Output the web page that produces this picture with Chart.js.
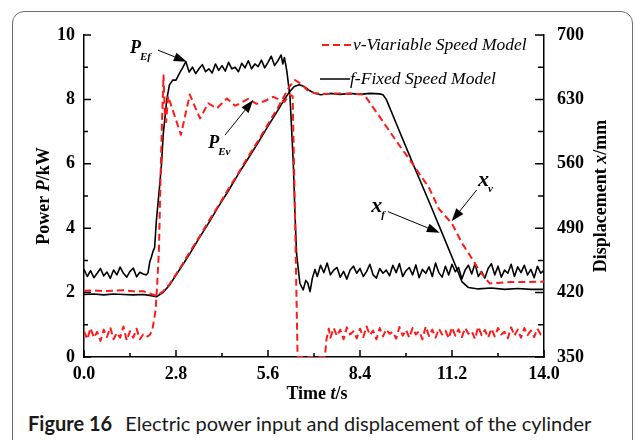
<!DOCTYPE html>
<html>
<head>
<meta charset="utf-8">
<script src="https://cdn.jsdelivr.net/npm/chart.js@4.4.1/dist/chart.umd.min.js"></script>
<style>
  html, body { margin: 0; padding: 0; background: #fff; }
  body { width: 635px; height: 440px; position: relative; overflow: hidden; }
  #frame { position: absolute; left: 12px; top: 11px; width: 621px; height: 470px;
           border: 1.5px solid #6f6f6f; border-radius: 12px; box-sizing: border-box; }
  #wrap { position: absolute; left: 0; top: 0; width: 635px; height: 410px; }
  #caption { position: absolute; left: 28px; top: 411px; line-height: 24px;
             font-family: Lato, "Open Sans", sans-serif; font-size: 20px; color: #1a1a1a; white-space: nowrap; }
  #caption b { font-weight: 700; margin-right: 8px; }
</style>
</head>
<body>
<div id="frame"></div>
<div id="wrap"><canvas id="chart" width="635" height="410"></canvas></div>
<div id="caption"><b>Figure 16</b> Electric power input and displacement of the cylinder</div>
<script>
// time grid helper for the evenly sampled (0.1 s) noisy stretches
function grid(a, b) {
    const out = [];
    for (let i = Math.round(a * 10); i <= Math.round(b * 10); i++) out.push(i / 10);
    return out;
}

// axis ticks
const timeTicks = [0, 2.8, 5.6, 8.4, 11.2, 14.0];
const timeMinor = [1.4, 4.2, 7.0, 9.8, 12.6];
const powerMinor = [1, 3, 5, 7, 9];
const dispTicks = [350, 420, 490, 560, 630, 700];
const dispMinor = [385, 455, 525, 595, 665];

// f - fixed speed model, electric power P (kW)
const pfTime = [...grid(0, 1.9),
    1.95, 2.0, 2.05, 2.1, 2.15, 2.2, 2.3, 2.36, 2.41, 2.47, 2.52, 2.6, 2.7, 2.8, 2.9,
    ...grid(3.0, 6.0),
    6.05, 6.1, 6.17, 6.27, 6.37, 6.42, 6.47, 6.57, 6.67, 6.75, 6.81, 6.88, 6.95, 7.03,
    ...grid(7.1, 14.0)];
const pfValue = [
    2.72, 2.50, 2.68, 2.46, 2.6, 2.75, 2.52, 2.64, 2.44, 2.70, 2.55, 2.79, 2.6, 2.48, 2.66, 2.76, 2.49, 2.63, 2.58, 2.55,
    2.62, 2.95, 3.1, 3.28, 3.4, 4.2, 5.3, 6.0, 6.9, 7.5, 8.0, 8.45, 8.6, 8.6, 8.8,
    8.98, 9.17, 8.85, 9.0, 8.8, 8.95, 9.08, 8.86, 8.95, 8.82, 9.1, 8.9, 9.05, 8.88, 9.15, 8.95,
    9.0, 8.86, 9.12, 8.98, 9.2, 8.95, 9.1, 9.02, 9.22, 8.98, 9.15, 9.34, 9.05, 9.2, 9.38,
    9.1, 9.3, 8.9, 8.08, 6.0, 4.47, 3.2, 2.29, 2.08, 2.38, 2.3, 2.03, 2.45, 2.72,
    2.5, 2.85, 2.62, 2.92, 2.55, 2.7, 2.78, 2.48, 2.66, 2.42, 2.7, 2.82, 2.6, 2.75, 2.5, 2.65, 2.88, 2.55, 2.45, 2.75,
    2.6, 2.7, 2.52, 2.85, 2.62, 2.9, 2.5, 2.68, 2.78, 2.55, 2.86, 2.46, 2.72, 2.6, 2.8, 2.5, 2.92, 2.62, 2.48, 2.82,
    2.55, 2.88, 2.65, 2.78, 2.42, 2.7, 2.85, 2.58, 2.9, 2.5, 2.65, 2.45, 2.75, 2.9, 2.55, 2.82, 2.48, 2.7, 2.6, 2.88,
    2.5, 2.8, 2.62, 2.85, 2.55, 2.72, 2.46, 2.82, 2.6, 2.7];

// v - variable speed model, electric power P (kW)
const pvTime = [...grid(0, 1.9),
    2.0, 2.08, 2.18, 2.23, 2.28, 2.33, 2.38, 2.42, 2.46, 2.5, 2.56, 2.95, 3.22, 3.53, 3.78, 4.04, 4.35, 4.6,
    5.0, 5.25, 5.5, 5.76, 6.1, 6.25, 6.35, 6.42, 6.5, 7.0, 7.33, 7.38, 7.45,
    ...grid(7.5, 14.0)];
const pvValue = [
    0.8, 0.55, 0.9, 0.6, 0.78, 0.5, 0.85, 0.62, 0.92, 0.55, 0.75, 0.6, 0.95, 0.52, 0.8, 0.6, 0.88, 0.55, 0.7, 0.62,
    0.68, 0.84, 1.46, 2.3, 3.3, 5.6, 7.5, 8.75, 7.6, 7.3, 8.1, 6.9, 8.15, 7.41, 7.88, 7.72, 8.03, 7.8,
    8.02, 7.86, 7.95, 8.08, 7.92, 8.15, 8.1, 4.5, 0.0, 0.0, 0.0, 0.55, 0.88,
    0.6, 0.9, 0.65, 0.85, 0.55, 0.92, 0.7, 0.8, 0.58, 0.88, 0.62, 0.95, 0.68, 0.82, 0.55, 0.9, 0.64, 0.86, 0.72, 0.78,
    0.57, 0.93, 0.66, 0.84, 0.6, 0.9, 0.7, 0.8, 0.55, 0.95, 0.65, 0.85, 0.6, 0.88, 0.7, 0.82, 0.58, 0.92, 0.66, 0.86,
    0.62, 0.9, 0.72, 0.8, 0.56, 0.94, 0.68, 0.84, 0.6, 0.88, 0.64, 0.9, 0.7, 0.78, 0.58, 0.92, 0.66, 0.85, 0.6, 0.9,
    0.68, 0.82, 0.62, 0.88, 0.7, 0.76];

// f - fixed speed model, displacement x (mm)
const xfTime = [0, 0.3, 0.6, 0.9, 1.2, 1.5, 1.8, 2.0, 2.2, 2.4, 2.6, 2.8, 3.0, 3.2, 3.5, 3.8, 4.1, 4.4, 4.7, 5.0,
    5.3, 5.6, 5.9, 6.1, 6.25, 6.4, 6.55, 6.7, 6.85, 7.0, 7.2, 7.5, 7.8, 8.1, 8.4, 8.7, 9.0, 9.1, 9.2, 9.5,
    10.0, 10.5, 11.0, 11.3, 11.5, 11.7, 12.0, 12.4, 12.8, 13.2, 13.6, 14.0];
const xfValue = [418, 418.5, 417.5, 418.5, 418, 417.5, 418, 417, 415.5, 420, 428, 439, 450, 461, 479, 496, 514, 531, 549, 566,
    583, 601, 618, 630, 638, 644, 646, 644, 640, 637, 635, 636.5, 635.5, 636.5, 635.5, 636.5, 636, 635, 630, 604,
    561, 519, 476, 450, 432, 425.5, 424, 425, 423.5, 424.5, 423.5, 423.5];

// v - variable speed model, displacement x (mm)
const xvTime = [0, 0.3, 0.6, 0.9, 1.2, 1.5, 1.8, 2.0, 2.2, 2.4, 2.6, 2.8, 3.0, 3.2, 3.5, 3.8, 4.1, 4.4, 4.7, 5.0,
    5.3, 5.6, 5.9, 6.1, 6.25, 6.42, 6.6, 6.8, 7.0, 7.3, 7.7, 8.1, 8.4, 8.55, 9.0, 9.5, 10.0, 10.5, 10.8, 11.0,
    11.2, 11.5, 11.7, 12.0, 12.2, 12.35, 12.6, 13.0, 13.5, 14.0];
const xvValue = [422, 422.5, 421.5, 422, 422.5, 421.5, 421.5, 419, 416.5, 421, 429, 440, 451, 463, 480, 498, 515, 533, 550, 568,
    585, 603, 621, 634, 644, 651, 647, 640, 637, 636, 636.5, 636, 636, 634, 611, 585, 560, 534, 511, 503,
    495, 474, 463, 446, 436, 430, 430.5, 431.5, 431.5, 432];

const legendItems = ['v-Viariable Speed Model', 'f-Fixed Speed Model'];

const RED = '#ff1a1a';
const serif = '"Liberation Serif", "Times New Roman", Times, serif';

function zip(t, v) {
    return t.map((x, i) => ({x: x, y: v[i]}));
}

// callout labels, placed in data units (axis: y = power, y1 = displacement)
const callouts = [
    {main: 'P', sub: 'Ef', size: 18, axis: 'y', at: [1.40, 9.43], from: [2.25, 9.53], to: [3.13, 9.17], subDy: 7},
    {main: 'P', sub: 'Ev', size: 18, axis: 'y', at: [3.78, 6.48], from: [4.29, 6.89], to: [5.15, 7.98], subDy: 7},
    {main: 'x', sub: 'v', size: 22, axis: 'y1', at: [11.99, 535.5], from: [11.95, 531.5], to: [11.19, 497.5], subDy: 6},
    {main: 'x', sub: 'f', size: 22, axis: 'y1', at: [8.74, 508], from: [9.25, 508], to: [10.83, 485], subDy: 6}
];

function rich(ctx, parts, cx, cy, angle) {
    ctx.save();
    ctx.translate(cx, cy);
    ctx.rotate(angle);
    let total = 0;
    parts.forEach(p => { ctx.font = p.font; p.w = ctx.measureText(p.text).width; total += p.w; });
    let x = -total / 2;
    ctx.textBaseline = 'middle';
    ctx.textAlign = 'left';
    parts.forEach(p => { ctx.font = p.font; ctx.fillText(p.text, x, 0); x += p.w; });
    ctx.restore();
}

function arrow(ctx, x0, y0, x1, y1) {
    const ang = Math.atan2(y1 - y0, x1 - x0);
    const len = 13, half = 4.5;
    const bx = x1 - len * Math.cos(ang), by = y1 - len * Math.sin(ang);
    ctx.beginPath();
    ctx.moveTo(x0, y0);
    ctx.lineTo(bx, by);
    ctx.stroke();
    ctx.beginPath();
    ctx.moveTo(x1, y1);
    ctx.lineTo(bx + half * Math.sin(ang), by - half * Math.cos(ang));
    ctx.lineTo(bx - half * Math.sin(ang), by + half * Math.cos(ang));
    ctx.closePath();
    ctx.fill();
}

const overlay = {
    id: 'overlay',
    afterDraw(chart) {
        const {ctx, chartArea: a, scales} = chart;
        const sx = scales.x, sy = scales.y, sy1 = scales.y1;
        ctx.save();
        ctx.strokeStyle = '#000';
        ctx.fillStyle = '#000';
        ctx.lineWidth = 1.5;

        // inward tick marks
        ctx.beginPath();
        timeTicks.forEach(v => { const p = sx.getPixelForValue(v); ctx.moveTo(p, a.bottom); ctx.lineTo(p, a.bottom - 7); });
        timeMinor.forEach(v => { const p = sx.getPixelForValue(v); ctx.moveTo(p, a.bottom); ctx.lineTo(p, a.bottom - 4); });
        sy.ticks.forEach(t => { const p = sy.getPixelForValue(t.value); ctx.moveTo(a.left, p); ctx.lineTo(a.left + 7, p); });
        powerMinor.forEach(v => { const p = sy.getPixelForValue(v); ctx.moveTo(a.left, p); ctx.lineTo(a.left + 4, p); });
        dispTicks.forEach(v => { const p = sy1.getPixelForValue(v); ctx.moveTo(a.right, p); ctx.lineTo(a.right - 9, p); });
        dispMinor.forEach(v => { const p = sy1.getPixelForValue(v); ctx.moveTo(a.right, p); ctx.lineTo(a.right - 6, p); });
        ctx.stroke();

        // axis titles
        const b = 'bold 18px ' + serif, bi = 'italic bold 18px ' + serif;
        const midY = (a.top + a.bottom) / 2;
        rich(ctx, [{text: 'Power ', font: b}, {text: 'P', font: bi}, {text: '/kW', font: b}], 44, midY, -Math.PI / 2);
        rich(ctx, [{text: 'Displacement ', font: b}, {text: 'x', font: bi}, {text: '/mm', font: b}], 601, midY, -Math.PI / 2);
        rich(ctx, [{text: 'Time ', font: b}, {text: 't', font: bi}, {text: '/s', font: b}], 317, 394, 0);

        // legend
        ctx.font = 'italic 17.5px ' + serif;
        ctx.textBaseline = 'middle';
        ctx.textAlign = 'left';
        ctx.lineWidth = 2;
        ctx.strokeStyle = RED;
        ctx.setLineDash([7, 4]);
        ctx.beginPath(); ctx.moveTo(a.right - 222, a.top + 10); ctx.lineTo(a.right - 192, a.top + 10); ctx.stroke();
        ctx.setLineDash([]);
        ctx.strokeStyle = '#000';
        ctx.lineWidth = 1.5;
        ctx.beginPath(); ctx.moveTo(a.right - 224, a.top + 44); ctx.lineTo(a.right - 194, a.top + 44); ctx.stroke();
        ctx.fillText(legendItems[0], a.right - 191, a.top + 10);
        ctx.fillText(legendItems[1], a.right - 194, a.top + 44);

        // callouts
        ctx.lineWidth = 1;
        callouts.forEach(c => {
            const ys = scales[c.axis];
            const tx = sx.getPixelForValue(c.at[0]), ty = ys.getPixelForValue(c.at[1]);
            ctx.textBaseline = 'alphabetic';
            ctx.font = 'italic bold ' + c.size + 'px ' + serif;
            ctx.fillText(c.main, tx, ty);
            const w = ctx.measureText(c.main).width;
            ctx.font = 'italic bold 11px ' + serif;
            ctx.fillText(c.sub, tx + w - 1, ty + c.subDy);
            arrow(ctx, sx.getPixelForValue(c.from[0]), ys.getPixelForValue(c.from[1]),
                sx.getPixelForValue(c.to[0]), ys.getPixelForValue(c.to[1]));
        });
        ctx.restore();
    }
};

const tickFont = {family: serif, size: 18, weight: 'bold'};
const line = (color, width, dash) => ({
    borderColor: color, borderWidth: width, borderDash: dash, pointRadius: 0,
    tension: 0, fill: false, borderJoinStyle: 'round'
});

new Chart(document.getElementById('chart'), {
    type: 'line',
    data: {
        datasets: [
            {label: 'v power', data: zip(pvTime, pvValue), yAxisID: 'y', ...line(RED, 2, [7, 4])},
            {label: 'v displacement', data: zip(xvTime, xvValue), yAxisID: 'y1', ...line(RED, 2, [7, 4])},
            {label: 'f power', data: zip(pfTime, pfValue), yAxisID: 'y', ...line('#000', 1.6, [])},
            {label: 'f displacement', data: zip(xfTime, xfValue), yAxisID: 'y1', ...line('#000', 1.6, [])}
        ]
    },
    options: {
        responsive: false,
        animation: false,
        devicePixelRatio: 1,
        layout: {padding: {top: 35, left: 0, right: 0, bottom: 0}},
        plugins: {legend: {display: false}, tooltip: {enabled: false}},
        scales: {
            x: {
                type: 'linear', min: 0, max: 14,
                afterBuildTicks: s => { s.ticks = timeTicks.map(v => ({value: v})); },
                afterFit: s => { s.height = 53; },
                grid: {display: false, drawTicks: false},
                border: {display: true, color: '#000', width: 1.5},
                ticks: {font: tickFont, color: '#000', padding: 7, maxRotation: 0, callback: v => v.toFixed(1)}
            },
            y: {
                position: 'left', min: 0, max: 10,
                afterFit: s => { s.width = 84; },
                grid: {display: false, drawTicks: false},
                border: {display: true, color: '#000', width: 1.5},
                ticks: {font: tickFont, color: '#000', padding: 9, stepSize: 2}
            },
            y1: {
                position: 'right', min: 350, max: 700,
                afterBuildTicks: s => { s.ticks = dispTicks.map(v => ({value: v})); },
                afterFit: s => { s.width = 91; },
                grid: {display: false, drawTicks: false},
                border: {display: true, color: '#000', width: 1.5},
                ticks: {font: tickFont, color: '#000', padding: 13}
            }
        }
    },
    plugins: [overlay]
});
</script>
</body>
</html>
